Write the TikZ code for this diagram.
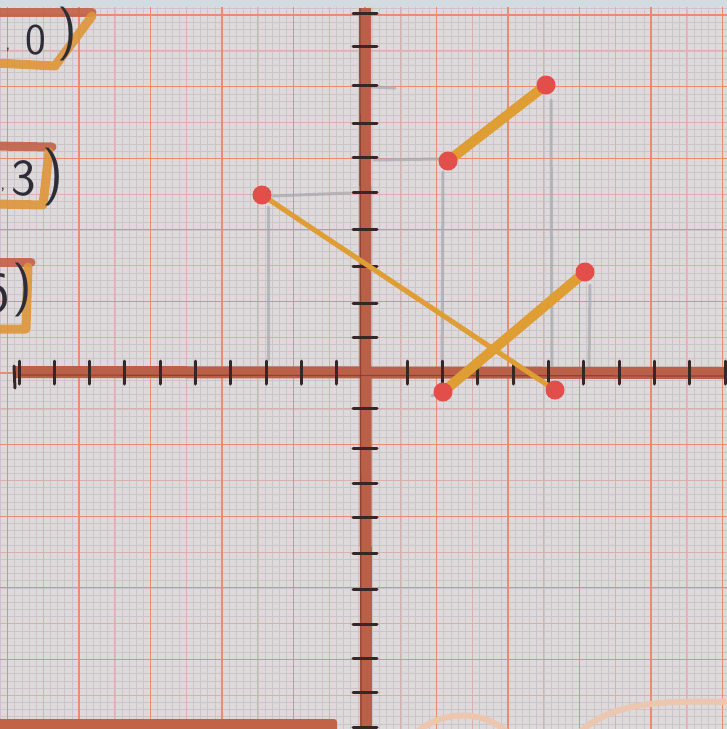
\documentclass[tikz,border=0pt]{standalone}
\usepackage{tikz}
\definecolor{paper}{RGB}{222,217,219}
\definecolor{finec}{RGB}{203,197,201}
\definecolor{halfc}{RGB}{218,176,172}
\definecolor{majorc}{RGB}{232,140,116}
\definecolor{axisc}{RGB}{186,96,72}
\definecolor{axisd}{RGB}{128,55,42}
\definecolor{tickc}{RGB}{55,38,38}
\definecolor{segc}{RGB}{222,158,52}
\definecolor{dotc}{RGB}{226,78,74}
\definecolor{pencilc}{RGB}{168,170,175}
\definecolor{inkc}{RGB}{45,45,55}
\definecolor{labbrown}{RGB}{194,98,70}
\definecolor{laborange}{RGB}{222,150,58}
\definecolor{peachc}{RGB}{236,198,174}
\definecolor{skyc}{RGB}{210,220,224}
\tikzset{
  fineline/.style={draw=finec, line width=0.5pt},
  halfline/.style={draw=halfc, line width=0.9pt},
  majorline/.style={draw=majorc, line width=1.3pt},
  pencilline/.style={draw=pencilc, line width=3pt, line cap=round, opacity=0.75},
  axisline/.style={draw=axisc, line width=12pt},
  axisdark/.style={draw=axisd, line width=1.2pt, opacity=0.7},
  tickline/.style={draw=tickc, line width=3pt, line cap=round},
  segthin/.style={draw=segc, line width=5pt, line cap=round},
  segthick/.style={draw=segc, line width=10pt, line cap=round},
  dotn/.style={circle, fill=dotc, inner sep=0pt, minimum size=19pt},
  boxbrown/.style={draw=labbrown, line width=9pt, line cap=round, line join=round, opacity=0.9},
  boxorange/.style={draw=laborange, line width=9pt, line cap=round, line join=round, opacity=0.9},
  handtext/.style={text=inkc, inner sep=0pt, font=\sffamily},
}
\begin{document}
\begin{tikzpicture}[x=1pt,y=-1pt]
\useasboundingbox (0,0) rectangle (727,729);
\clip (0,0) rectangle (727,729);
% paper
\fill[paper] (0,0) rectangle (727,729);
\fill[skyc] (0,0) rectangle (727,7);
% fine grid
\foreach \k in {-51,...,51} \draw[fineline] ({365+7.15*\k},7) -- ({365+7.15*\k},729);
\foreach \k in {-51,...,50} \draw[fineline] (0,{373+7.16*\k}) -- (727,{373+7.16*\k});
% half lines
\foreach \m in {-5,...,4} \draw[halfline] ({365+71.5*\m+35.75},7) -- ({365+71.5*\m+35.75},729);
\foreach \m in {-5,...,4} \draw[halfline] (0,{373+71.6*\m+35.8}) -- (727,{373+71.6*\m+35.8});
% major lines
\foreach \m in {-5,...,5} \draw[majorline] ({365+71.5*\m},7) -- ({365+71.5*\m},729);
\foreach \m in {-5,...,5} \draw[majorline] (0,{373+71.6*\m}) -- (727,{373+71.6*\m});
% pencil guide lines
\draw[pencilline] (268,207) -- (268,360);
\draw[pencilline] (273,196) -- (350,193);
\draw[pencilline] (374,160) -- (438,159);
\draw[pencilline] (443,172) -- (442,386);
\draw[pencilline] (372,87) -- (395,88);
\draw[pencilline] (551,100) -- (552,372);
\draw[pencilline] (590,285) -- (589,370);
\draw[pencilline] (432,396) -- (438,393);
% axes
\coordinate (xl) at (14,372);
\coordinate (xr) at (724,373);
\coordinate (yt) at (365,8);
\coordinate (yb) at (366,729);
\draw[axisline] (xl) -- (xr);
\draw[axisline] (yt) -- (yb);
\draw[axisdark] (20,375) -- (724,376);
\draw[axisdark] (360,8) -- (361,729);
% ticks on x-axis
\foreach \k in {-10,...,-1,1,2,...,10} \draw[tickline] ({372+35.3*\k},361) -- ({372+35.3*\k},384);
\draw[tickline] (14,366) -- (15,388);
% ticks on y-axis
\foreach \yy in {13,46,85,123,157,192,229,266,303,337,408,448,483,517,553,589,624,658,692,727}
  \draw[tickline] (353,\yy) -- (377,\yy);
% segments
\coordinate (a) at (262,195);
\coordinate (b) at (555,390);
\coordinate (c) at (448,161);
\coordinate (d) at (546,85);
\coordinate (e) at (443,392);
\coordinate (f) at (585,272);
\draw[segthin] (a) -- (b);
\draw[segthick] (c) -- (d);
\draw[segthick] (e) -- (f);
\node[dotn] (A) at (a) {};
\node[dotn] (B) at (b) {};
\node[dotn] (C) at (c) {};
\node[dotn] (D) at (d) {};
\node[dotn] (E) at (e) {};
\node[dotn] (F) at (f) {};
% left labels
\draw[boxbrown] (-5,12) -- (92,12);
\draw[boxorange] (92,16) -- (55,66) -- (-5,63);
\node[handtext, font=\sffamily\fontsize{18}{18}\selectfont] (L1c) at (8,50) {,};
\node[handtext, font=\sffamily\fontsize{44}{44}\selectfont] (L1n) at (36,40) {0};
\node[handtext, font=\sffamily\fontsize{54}{54}\selectfont] (L1p) at (67,34) {)};
\draw[boxbrown] (-5,146) -- (52,147);
\draw[boxorange] (49,152) -- (43,205) -- (-5,204);
\node[handtext, font=\sffamily\fontsize{18}{18}\selectfont] (L2c) at (3,190) {,};
\node[handtext, font=\sffamily\fontsize{52}{52}\selectfont] (L2n) at (24,178) {3};
\node[handtext, font=\sffamily\fontsize{58}{58}\selectfont] (L2p) at (53,177) {)};
\draw[boxbrown] (-5,262) -- (31,262);
\draw[boxorange] (28,267) -- (26,329) -- (-5,329);
\node[handtext, font=\sffamily\fontsize{58}{58}\selectfont] (L3n) at (-4,293) {6};
\node[handtext, font=\sffamily\fontsize{54}{54}\selectfont] (L3p) at (22,290) {)};
% bottom marks
\fill[labbrown, rounded corners=3pt] (-5,719) rectangle (337,735);
\draw[draw=peachc, line width=6pt, line cap=round] (417,732) .. controls (440,712) and (480,708) .. (507,732);
\draw[draw=peachc, line width=6pt, line cap=round] (580,732) .. controls (610,705) and (650,700) .. (730,702);
\end{tikzpicture}
\end{document}
